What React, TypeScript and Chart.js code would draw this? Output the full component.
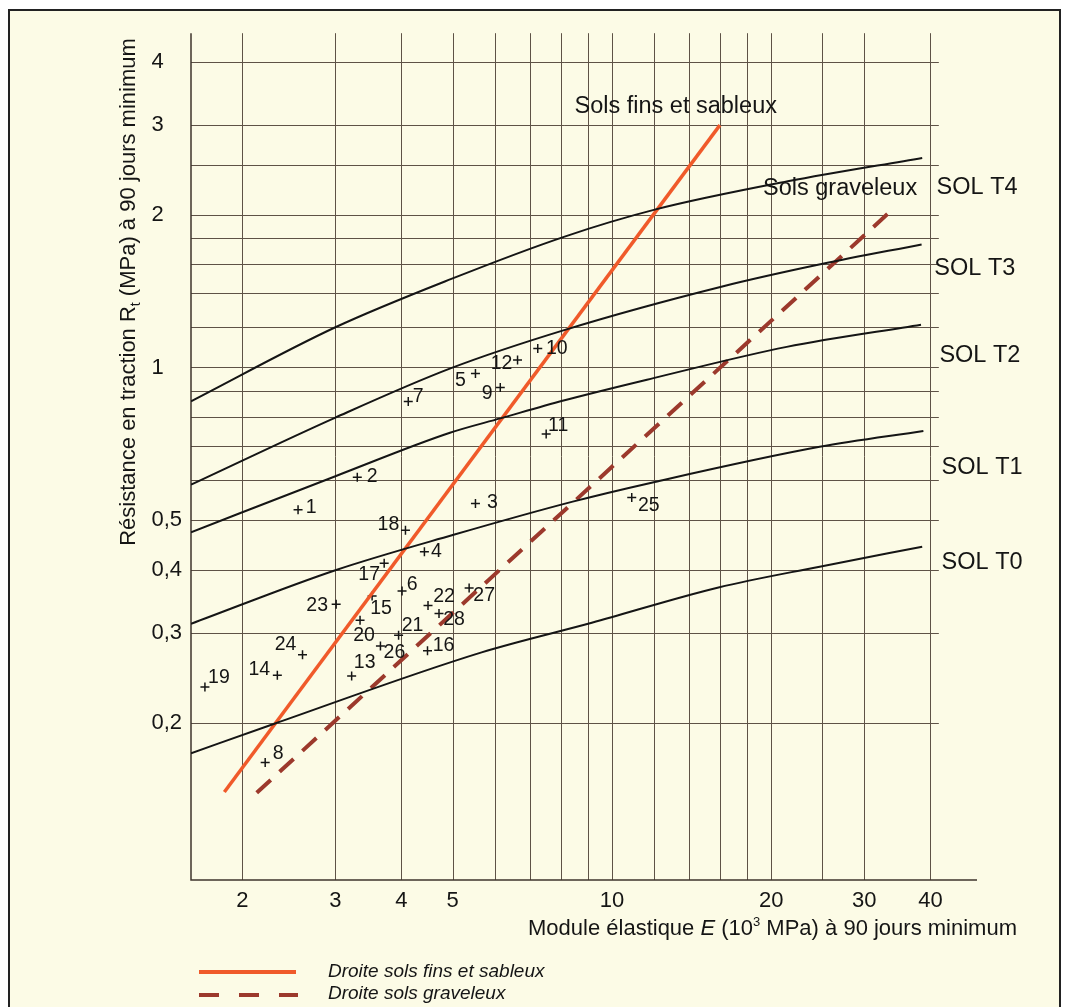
import React, { useEffect, useRef } from 'react';
import { Chart, registerables } from 'chart.js';

Chart.register(...registerables);

const FONT = '"Liberation Sans", Arial, Helvetica, sans-serif';

// ---- axis ranges & ticks ----
const xRange = [1.6, 49];
const yRange = [0.098, 4.55];
const xTickValues = [2, 3, 4, 5, 10, 20, 30, 40];
const yTickValues = [0.2, 0.3, 0.4, 0.5, 1, 2, 3, 4];
const xGridValues = [2, 3, 4, 5, 6, 7, 8, 9, 10, 12, 14, 16, 18, 20, 25, 30, 40];
const yGridValues = [0.2, 0.3, 0.4, 0.5, 0.6, 0.7, 0.8, 0.9, 1, 1.2, 1.4, 1.6, 1.8, 2, 2.5, 3, 4];
const hGridEnd = 41.5;

// ---- soil class boundary curves (E in 10^3 MPa, Rt in MPa) ----
const solT4E = [1.6, 3.0, 4.97, 8.14, 12.05, 21.5, 38.6];
const solT4R = [0.858, 1.2, 1.494, 1.81, 2.045, 2.325, 2.585];
const solT3E = [1.6, 3.0, 4.95, 8.15, 16.1, 24.9, 38.5];
const solT3R = [0.588, 0.797, 0.996, 1.186, 1.442, 1.598, 1.747];
const solT2E = [1.6, 3.0, 4.94, 6.15, 8.1, 11.98, 21.4, 38.4];
const solT2R = [0.474, 0.611, 0.744, 0.794, 0.861, 0.953, 1.098, 1.214];
const solT1E = [1.6, 3.0, 5.0, 8.43, 11.94, 24.7, 38.8];
const solT1R = [0.313, 0.399, 0.468, 0.5445, 0.594, 0.698, 0.75];
const solT0E = [1.6, 2.3, 5.67, 9.16, 15.9, 24.7, 38.6];
const solT0R = [0.174, 0.199, 0.275, 0.3145, 0.369, 0.4055, 0.444];

// ---- regression lines ----
const finsE = [1.85, 16.0];
const finsR = [0.146, 3.0];
const gravE = [2.13, 33.8];
const gravR = [0.1455, 2.04];

// ---- measured points ----
const pointIds = ['1','2','3','4','5','6','7','8','9','10','11','12','13','14','15','16','17','18','19','20','21','22','23','24','25','26','27','28'];
const pointE = [2.55, 3.30, 5.52, 4.42, 5.52, 4.01, 4.12, 2.21, 6.15, 7.24, 7.51, 6.63, 3.22, 2.33, 3.52, 4.48, 3.71, 4.07, 1.70, 3.34, 3.95, 4.49, 3.01, 2.60, 10.9, 3.65, 5.37, 4.71];
const pointR = [0.525, 0.608, 0.540, 0.434, 0.973, 0.363, 0.857, 0.167, 0.913, 1.09, 0.74, 1.034, 0.247, 0.248, 0.355, 0.277, 0.412, 0.478, 0.235, 0.318, 0.297, 0.340, 0.342, 0.272, 0.555, 0.283, 0.368, 0.328];
// label placement relative to each cross (layout only)
const pointLabelOffsets = [[13,-2],[15,-1],[17,-1],[12,0],[-15,7],[10,-6],[10,-5],[13,-9],[-13,6],[19,0],[12,-8],[-16,4],[13,-13],[-18,-6],[9,13],[16,-5],[-15,11],[-17,-6],[14,-9],[4,15],[14,-10],[16,-9],[-19,1],[-17,-10],[17,8],[14,7],[15,8],[15,6]];

// ---- annotations ----
const curveLabels = ['Sols fins et sableux', 'Sols graveleux'];
const curveLabelE = [13.2, 27.0];
const curveLabelR = [3.26, 2.248];
const classLabels = ['SOL T4', 'SOL T3', 'SOL T2', 'SOL T1', 'SOL T0'];
const classLabelE = [41.1, 40.7, 41.6, 42.0, 42.0];
const classLabelR = [2.257, 1.568, 1.055, 0.635, 0.414];

const legendLabels = ['Droite sols fins et sableux', 'Droite sols graveleux'];

const ORANGE = '#f05a2a';
const BROWN = '#9c392c';
const GRID = '#5e5246';
const INK = '#151515';
const PAPER = '#fcfbe6';

const W = 1049;
const H = 1000;

const zip = (xs: number[], ys: number[]) => xs.map((v, i) => ({ x: v, y: ys[i] }));

function drawSegs(ctx: CanvasRenderingContext2D, segs: any[], x: number, y: number) {
  let cx = x;
  for (const s of segs) {
    ctx.font = s.font;
    ctx.fillText(s.text, cx, y + (s.dy || 0));
    cx += ctx.measureText(s.text).width;
  }
  return cx - x;
}
function segsWidth(ctx: CanvasRenderingContext2D, segs: any[]) {
  let w = 0;
  for (const s of segs) { ctx.font = s.font; w += ctx.measureText(s.text).width; }
  return w;
}

const paperPlugin = {
  id: 'paperPlugin',
  beforeDatasetsDraw(chart: any) {
    const { ctx, scales } = chart;
    const x = scales.x, y = scales.y;
    const top = y.getPixelForValue(yRange[1]);
    const bottom = y.getPixelForValue(yRange[0]);
    const left = x.getPixelForValue(xRange[0]);
    const right = x.getPixelForValue(hGridEnd);
    ctx.save();
    ctx.strokeStyle = GRID;
    ctx.lineWidth = 1;
    ctx.beginPath();
    for (const v of xGridValues) {
      const px = Math.round(x.getPixelForValue(v)) + 0.5;
      ctx.moveTo(px, top); ctx.lineTo(px, bottom);
    }
    for (const v of yGridValues) {
      const py = Math.round(y.getPixelForValue(v)) + 0.5;
      ctx.moveTo(left, py); ctx.lineTo(right, py);
    }
    ctx.stroke();
    ctx.strokeStyle = '#3e352d';
    ctx.lineWidth = 1.5;
    ctx.beginPath();
    ctx.moveTo(left, top); ctx.lineTo(left, bottom);
    ctx.lineTo(x.getPixelForValue(xRange[1]), bottom);
    ctx.stroke();
    ctx.restore();
  },
  afterDatasetsDraw(chart: any) {
    const { ctx, scales } = chart;
    const x = scales.x, y = scales.y;
    ctx.save();
    ctx.fillStyle = INK;
    // point labels
    ctx.font = `19.5px ${FONT}`;
    ctx.textAlign = 'center';
    ctx.textBaseline = 'middle';
    pointIds.forEach((id, i) => {
      const px = x.getPixelForValue(pointE[i]);
      const py = y.getPixelForValue(pointR[i]);
      const [dx, dy] = pointLabelOffsets[i];
      ctx.fillText(id, px + dx, py + dy);
    });
    // curve labels
    ctx.font = `23.5px ${FONT}`;
    curveLabels.forEach((t, i) => {
      ctx.fillText(t, x.getPixelForValue(curveLabelE[i]), y.getPixelForValue(curveLabelR[i]));
    });
    ctx.textAlign = 'left';
    classLabels.forEach((t, i) => {
      ctx.fillText(t, x.getPixelForValue(classLabelE[i]), y.getPixelForValue(classLabelR[i]));
    });

    // y axis title (rotated, with subscript)
    ctx.textBaseline = 'alphabetic';
    const f = `22px ${FONT}`;
    const ySegs = [
      { text: 'Résistance en traction R', font: f },
      { text: 't', font: `14px ${FONT}`, dy: 5 },
      { text: ' (MPa) à 90 jours minimum', font: f },
    ];
    ctx.save();
    ctx.translate(117, 281);
    ctx.rotate(-Math.PI / 2);
    const yw = segsWidth(ctx, ySegs);
    drawSegs(ctx, ySegs, -yw / 2, 8);
    ctx.restore();

    // x axis title (italic E, superscript 3)
    const xSegs = [
      { text: 'Module élastique ', font: f },
      { text: 'E', font: `italic 22px ${FONT}` },
      { text: ' (10', font: f },
      { text: '3', font: `13px ${FONT}`, dy: -9 },
      { text: ' MPa) à 90 jours minimum', font: f },
    ];
    drawSegs(ctx, xSegs, 518, 924);

    // legend
    ctx.lineWidth = 4;
    ctx.strokeStyle = ORANGE;
    ctx.beginPath(); ctx.moveTo(189, 961); ctx.lineTo(286, 961); ctx.stroke();
    ctx.strokeStyle = BROWN;
    ctx.setLineDash([20, 20]);
    ctx.beginPath(); ctx.moveTo(189, 984); ctx.lineTo(288, 984); ctx.stroke();
    ctx.setLineDash([]);
    ctx.font = `italic 19px ${FONT}`;
    ctx.textBaseline = 'middle';
    ctx.fillText(legendLabels[0], 318, 961);
    ctx.fillText(legendLabels[1], 318, 983);
    ctx.restore();
  },
};

export default function App() {
  const ref = useRef<HTMLCanvasElement | null>(null);
  useEffect(() => {
    if (!ref.current) return;
    const curve = (label: string, e: number[], r: number[]) => ({
      label, data: zip(e, r), borderColor: INK, borderWidth: 2, pointRadius: 0,
      cubicInterpolationMode: 'monotone', fill: false,
    });
    const chart = new Chart(ref.current, {
      type: 'line',
      data: {
        datasets: [
          curve('SOL T4', solT4E, solT4R),
          curve('SOL T3', solT3E, solT3R),
          curve('SOL T2', solT2E, solT2R),
          curve('SOL T1', solT1E, solT1R),
          curve('SOL T0', solT0E, solT0R),
          { label: 'Droite sols graveleux', data: zip(gravE, gravR), borderColor: BROWN, borderWidth: 4, borderDash: [19, 12], pointRadius: 0, fill: false },
          { label: 'Droite sols fins et sableux', data: zip(finsE, finsR), borderColor: ORANGE, borderWidth: 3.5, pointRadius: 0, fill: false },
          { label: 'Mesures', data: zip(pointE, pointR), showLine: false, pointStyle: 'cross', pointRadius: 4.5, pointBorderWidth: 1.5, pointBorderColor: INK, borderColor: INK },
        ],
      } as any,
      options: {
        animation: false,
        responsive: false,
        devicePixelRatio: 1,
        layout: { padding: { top: 16, right: W - 967, left: 0, bottom: 0 } },
        plugins: { legend: { display: false }, tooltip: { enabled: false } },
        scales: {
          x: {
            type: 'logarithmic', min: xRange[0], max: xRange[1],
            grid: { display: false, drawTicks: false }, border: { display: false },
            afterBuildTicks: (s: any) => { s.ticks = xTickValues.map((v) => ({ value: v })); },
            afterFit: (s: any) => { s.height = H - 869; },
            ticks: {
              autoSkip: false, maxRotation: 0, padding: 8, color: INK,
              font: { family: FONT, size: 22 },
              callback: (v: any) => String(v),
            },
          },
          y: {
            type: 'logarithmic', min: yRange[0], max: yRange[1],
            grid: { display: false, drawTicks: false }, border: { display: false },
            afterBuildTicks: (s: any) => { s.ticks = yTickValues.map((v) => ({ value: v })); },
            afterFit: (s: any) => { s.width = 181; },
            ticks: {
              autoSkip: false, padding: 9, color: INK,
              font: { family: FONT, size: 22 },
              callback: (v: any) => (v < 1 ? String(v).replace('.', ',') : String(v) + '\u2008\u2007'),
            },
          },
        },
      } as any,
      plugins: [paperPlugin],
    });
    return () => chart.destroy();
  }, []);

  return (
    <div style={{ position: 'fixed', left: 8, top: 9, width: 1053, height: 1010, boxSizing: 'border-box', border: '2px solid #222', background: PAPER }}>
      <canvas ref={ref} width={W} height={H} style={{ position: 'absolute', left: 0, top: 0, width: W, height: H }} />
    </div>
  );
}
